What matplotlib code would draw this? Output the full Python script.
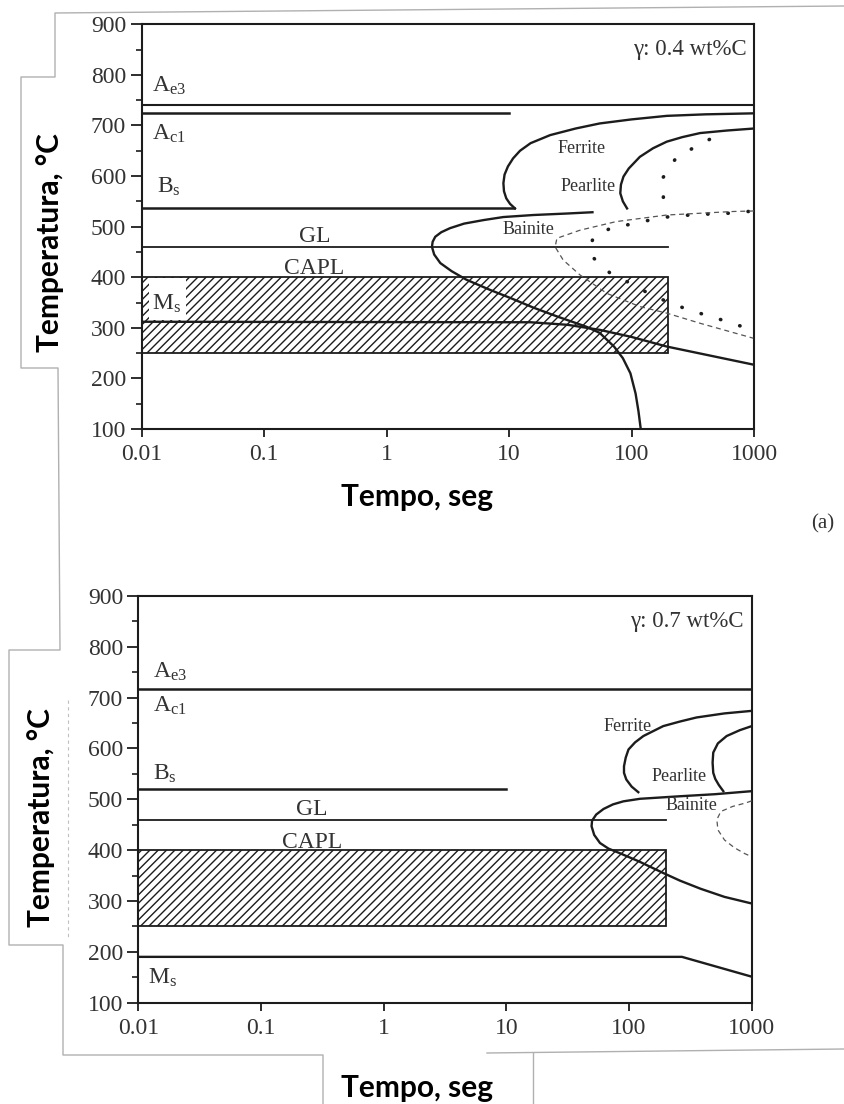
import numpy as np
import matplotlib
matplotlib.use('Agg')
import matplotlib.pyplot as plt
from matplotlib.patches import Rectangle
from matplotlib.lines import Line2D
from matplotlib.ticker import FixedLocator, FixedFormatter, NullLocator

# ---------------- data ----------------
time_ticks = [0.01, 0.1, 1, 10, 100, 1000]
time_tick_labels = ['0.01', '0.1', '1', '10', '100', '1000']
temp_ticks = [100, 200, 300, 400, 500, 600, 700, 800, 900]
temp_minor = [150, 250, 350, 450, 550, 650, 750, 850]

# CAPL window (both panels)
capl_time = [0.01, 200]
capl_temp = [250, 400]

# ----- panel (a): 0.4 wt%C -----
a_ae3 = 741
a_ac1, a_ac1_end = 724, 10
a_bs, a_bs_end = 537, 11
a_gl, a_gl_end = 460, 200
a_ms_t = [0.01, 15, 30, 55, 100, 194, 1000]
a_ms_T = [312, 311, 306, 296, 282, 263, 227]
a_ferr_t = [11.2, 10.2, 9.5, 9.1, 9.0, 9.2, 9.8, 10.8, 12.3, 15, 21.7, 35, 55, 100, 194, 400, 1000]
a_ferr_T = [536, 545, 556, 570, 586, 603, 619, 635, 650, 665, 681, 694, 704, 712, 719, 722, 724]
a_pear_t = [92, 85, 81, 82, 86, 95, 117, 150, 194, 260, 363, 600, 1000]
a_pear_T = [536, 550, 566, 583, 599, 615, 638, 655, 668, 677, 685, 690, 694]
a_bain_t = [48, 30, 15.8, 9, 6.2, 4.3, 3.3, 2.8, 2.5, 2.38, 2.35, 2.45, 2.75, 3.4, 4.5, 7,
            10.5, 15.8, 25, 43, 55, 72, 85, 98, 108, 114, 119]
a_bain_T = [528.5, 526, 523, 519, 513, 506, 497, 489, 480, 470, 460, 445, 428, 412, 395, 375,
            358, 340, 322, 302, 290, 263, 240, 210, 170, 135, 100]
a_pfin_t = [182, 182, 227, 330, 481]
a_pfin_T = [558, 598, 633, 658, 678]
a_bfin_t = [900, 617, 437, 300, 206, 141, 100, 69, 49, 46, 47, 67, 98, 138, 194, 282, 400, 575, 835]
a_bfin_T = [530, 526.5, 525, 523, 520, 513, 505, 498, 480, 460, 442, 408, 388, 368, 352, 337, 325.5, 314, 301]
a_dash_t = [1000, 680, 194, 75, 38, 24.6, 23.8, 27.7, 38, 63, 117, 194, 363, 986]
a_dash_T = [531, 530, 523, 510, 493, 477, 460, 434, 404.5, 368, 342, 329, 309, 279.5]

# ----- panel (b): 0.7 wt%C -----
b_ae3 = 718
b_bs, b_bs_end = 521, 10
b_gl, b_gl_end = 460, 200
b_ms_t = [0.01, 270, 1000]
b_ms_T = [190, 190, 151]
b_ferr_t = [119, 105, 95, 91, 91, 94, 99, 112, 131, 160, 190, 260, 355, 600, 1000]
b_ferr_T = [514, 525, 539, 552, 565, 582, 598, 612, 624.5, 635, 644, 653, 661, 669, 674]
b_pear_t = [587, 540, 505, 486, 480, 486, 530, 625, 800, 1000]
b_pear_T = [516, 528, 540, 552, 572, 592, 610, 624.5, 636, 644]
b_bain_t = [1000, 500, 261, 123, 90, 74, 62, 54, 50, 49.5, 52, 58, 68, 84, 120, 190, 260, 383, 600, 1000]
b_bain_T = [516, 510, 506, 501, 496, 490, 481, 470, 458, 447, 430, 414, 403, 394, 378, 355, 340, 324, 308, 295]
b_dash_t = [1000, 900, 700, 560, 520, 530, 600, 720, 880, 960]
b_dash_T = [497, 493, 486, 476, 460, 440, 420, 405, 393, 389]

# ---------------- style ----------------
plt.rcParams['font.family'] = ['Liberation Serif', 'DejaVu Serif']
plt.rcParams['mathtext.fontset'] = 'custom'
plt.rcParams['mathtext.rm'] = 'Liberation Serif'
plt.rcParams['hatch.linewidth'] = 1.0

INK = '#1c1c1c'
TXT = '#333333'
W, H = 844, 1104
fig = plt.figure(figsize=(W / 100, H / 100), dpi=100)


def box(l, t, r, b):
    return [l / W, 1 - b / H, (r - l) / W, (b - t) / H]


def fline(xs, ys, **kw):
    fig.add_artist(Line2D([x / W for x in xs], [1 - y / H for y in ys],
                          transform=fig.transFigure, **kw))


def setup(ax):
    ax.set_xscale('log')
    ax.set_xlim(0.01, 1000)
    ax.set_ylim(100, 900)
    ax.xaxis.set_major_locator(FixedLocator(time_ticks))
    ax.xaxis.set_major_formatter(FixedFormatter(time_tick_labels))
    ax.xaxis.set_minor_locator(NullLocator())
    ax.yaxis.set_major_locator(FixedLocator(temp_ticks))
    ax.yaxis.set_major_formatter(FixedFormatter([str(t) for t in temp_ticks]))
    ax.yaxis.set_minor_locator(FixedLocator(temp_minor))
    ax.tick_params(which='major', direction='out', width=1.3, colors=INK,
                   labelcolor=TXT, labelsize=17)
    ax.tick_params(axis='y', which='major', length=8, pad=3)
    ax.tick_params(axis='x', which='major', length=6, pad=5)
    ax.tick_params(axis='y', which='minor', direction='out', length=4, width=1.2, colors=INK)
    for s in ax.spines.values():
        s.set_linewidth(1.5)
        s.set_color(INK)


def capl_box(ax):
    ax.add_patch(Rectangle((capl_time[0], capl_temp[0]), capl_time[1] - capl_time[0],
                           capl_temp[1] - capl_temp[0], facecolor='white',
                           edgecolor=INK, hatch='////', linewidth=1.3, zorder=1))


def sub_label(ax, x, y, main, sub):
    ax.text(x, y, r'$\mathrm{%s_{%s}}$' % (main, sub), fontsize=17, color=TXT,
            ha='left', va='baseline', zorder=5)


lw_main = 1.7

# ---------------- panel (a) ----------------
ax1 = fig.add_axes(box(141.5, 24.3, 754, 429))
setup(ax1)
capl_box(ax1)
ax1.add_patch(Rectangle((0.0115, 316), 0.023 - 0.0115, 83, facecolor='white',
                        edgecolor='none', zorder=2))
ax1.plot([0.01, 1000], [a_ae3, a_ae3], color=INK, lw=1.5, zorder=3)
ax1.plot([0.01, a_ac1_end], [a_ac1, a_ac1], color=INK, lw=1.8, zorder=3)
ax1.plot([0.01, a_bs_end], [a_bs, a_bs], color=INK, lw=1.8, zorder=3)
ax1.plot([0.01, a_gl_end], [a_gl, a_gl], color=INK, lw=1.3, zorder=3)
ax1.plot(a_ms_t, a_ms_T, color=INK, lw=lw_main, zorder=3)
ax1.plot(a_ferr_t, a_ferr_T, color=INK, lw=lw_main, zorder=3)
ax1.plot(a_pear_t, a_pear_T, color=INK, lw=lw_main, zorder=3)
ax1.plot(a_bain_t, a_bain_T, color=INK, lw=lw_main, zorder=3)
ax1.plot(a_pfin_t, a_pfin_T, color=INK, lw=2.6, ls=(0, (0.1, 5.5)),
         dash_capstyle='round', zorder=3)
ax1.plot(a_bfin_t, a_bfin_T, color=INK, lw=2.6, ls=(0, (0.1, 5.5)),
         dash_capstyle='round', zorder=3)
ax1.plot(a_dash_t, a_dash_T, color='#555555', lw=0.9, ls=(0, (4, 3)), zorder=3)

ax1.text(0.9886, 0.9365, 'γ: 0.4 wt%C', transform=ax1.transAxes, ha='right',
         va='center', fontsize=16.5, color=TXT)
sub_label(ax1, 0.0121, 766.5, 'A', 'e3')
sub_label(ax1, 0.0121, 672, 'A', 'c1')
sub_label(ax1, 0.0135, 567, 'B', 's')
sub_label(ax1, 0.0122, 336.5, 'M', 's')
ax1.text(0.258, 469, 'GL', ha='center', va='baseline', fontsize=17, color=TXT)
ax1.text(0.258, 405.5, 'CAPL', ha='center', va='baseline', fontsize=17, color=TXT)
ax1.text(39, 655, 'Ferrite', ha='center', va='center', fontsize=13, color=TXT)
ax1.text(44.6, 579, 'Pearlite', ha='center', va='center', fontsize=13, color=TXT)
ax1.text(14.4, 493.5, 'Bainite', ha='center', va='center', fontsize=13, color=TXT)

# ---------------- panel (b) ----------------
ax2 = fig.add_axes(box(138.3, 596, 751.7, 1002.6))
setup(ax2)
capl_box(ax2)
ax2.plot([0.01, 1000], [b_ae3, b_ae3], color=INK, lw=1.8, zorder=3)
ax2.plot([0.01, b_bs_end], [b_bs, b_bs], color=INK, lw=1.8, zorder=3)
ax2.plot([0.01, b_gl_end], [b_gl, b_gl], color=INK, lw=1.3, zorder=3)
ax2.plot(b_ms_t, b_ms_T, color=INK, lw=lw_main, zorder=3)
ax2.plot(b_ferr_t, b_ferr_T, color=INK, lw=lw_main, zorder=3)
ax2.plot(b_pear_t, b_pear_T, color=INK, lw=lw_main, zorder=3)
ax2.plot(b_bain_t, b_bain_T, color=INK, lw=lw_main, zorder=3)
ax2.plot(b_dash_t, b_dash_T, color='#555555', lw=0.9, ls=(0, (4, 3)), zorder=3)

ax2.text(0.986, 0.9375, 'γ: 0.7 wt%C', transform=ax2.transAxes, ha='right',
         va='center', fontsize=16.5, color=TXT)
sub_label(ax2, 0.0132, 738.6, 'A', 'e3')
sub_label(ax2, 0.0132, 672, 'A', 'c1')
sub_label(ax2, 0.0132, 538, 'B', 's')
sub_label(ax2, 0.0120, 138, 'M', 's')
ax2.text(0.26, 469, 'GL', ha='center', va='baseline', fontsize=17, color=TXT)
ax2.text(0.26, 405, 'CAPL', ha='center', va='baseline', fontsize=17, color=TXT)
ax2.text(97, 644, 'Ferrite', ha='center', va='center', fontsize=13, color=TXT)
ax2.text(255, 545.5, 'Pearlite', ha='center', va='center', fontsize=13, color=TXT)
ax2.text(324, 488, 'Bainite', ha='center', va='center', fontsize=13, color=TXT)

# ---------------- axis titles (pasted, bold sans) ----------------
lab = dict(family=['Lato', 'DejaVu Sans'], fontweight='bold', fontsize=21.5, color='black')
fig.text(50 / W, 1 - 243 / H, 'Temperatura, °C', rotation=90, ha='center', va='center', **lab)
fig.text(41 / W, 1 - 818 / H, 'Temperatura, °C', rotation=90, ha='center', va='center', **lab)
fig.text(417 / W, 1 - 497 / H, 'Tempo, seg', ha='center', va='center', **lab)
fig.text(417 / W, 1 - 1088 / H, 'Tempo, seg', ha='center', va='center', **lab)
fig.text(823 / W, 1 - 524 / H, '(a)', ha='center', va='center', fontsize=15, color=TXT)

# ---------------- scan/paste frame lines ----------------
g = dict(color='#b0b0b0', lw=1.0)
fline([844, 55, 55, 21, 21, 58, 60, 9, 9, 63, 63, 323, 323],
      [6, 13, 77, 77, 368, 368, 650, 650, 945, 945, 1055, 1055, 1104], **g)
fline([487, 844], [1053, 1049], **g)
fline([533, 533], [1053, 1104], **g)
fline([68, 68], [700, 937], color='#c0c0c0', lw=0.8, ls=(0, (3, 3)))

fig.savefig('out.png', dpi=100)
